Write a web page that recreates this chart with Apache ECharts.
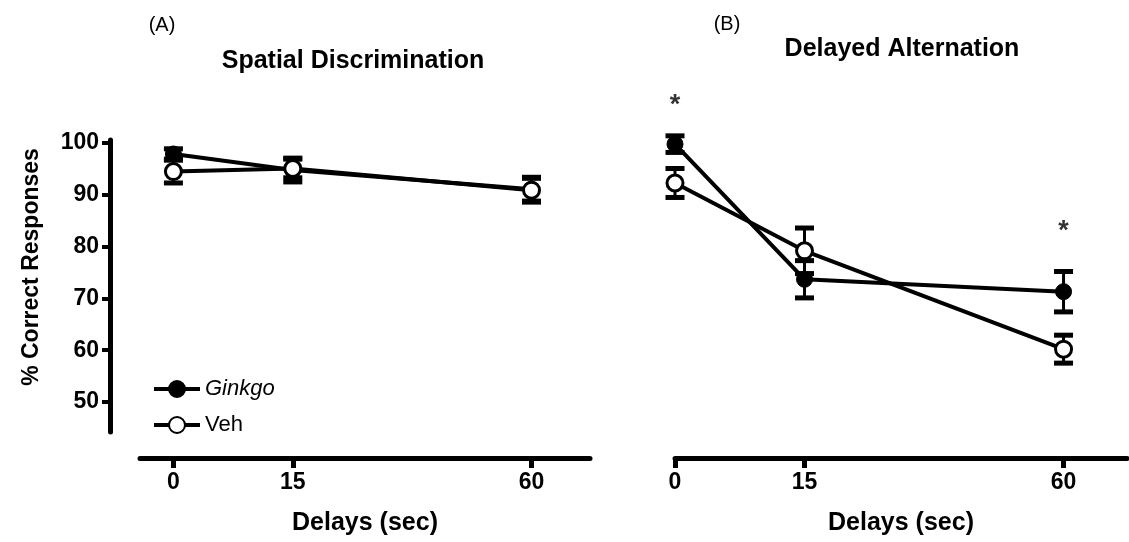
<!DOCTYPE html>
<html>
<head>
<meta charset="utf-8">
<script src="https://cdn.jsdelivr.net/npm/echarts@6/dist/echarts.min.js"></script>
<style>
  html, body { margin: 0; padding: 0; background: #fff; }
  #chart { width: 1129px; height: 542px; }
</style>
</head>
<body>
<div id="chart"></div>
<script>
// delays are drawn at ordinal positions 0, 1, 3 (spacing as in the figure)
let delayPos = [0, 1, 3];
let delayLabels = ['0', '15', '60'];
let yTicks = [50, 60, 70, 80, 90, 100];

// (A) spatial discrimination, mean and SEM
let ginkgoSpatial = [97.9, 94.8, 91.1];
let ginkgoSpatialErr = [1.0, 2.3, 2.3];
let vehSpatial = [94.5, 95.1, 90.9];
let vehSpatialErr = [2.2, 1.8, 2.3];

// (B) delayed alternation, mean and SEM
let ginkgoAlt = [99.8, 73.7, 71.3];
let ginkgoAltErr = [1.6, 3.6, 3.9];
let vehAlt = [92.3, 79.2, 60.2];
let vehAltErr = [2.8, 4.4, 2.7];

// significance marks in panel B (position index, height)
let sigPos = [0, 3];
let sigY = [107.3, 83.0];

const FONT = '"Liberation Sans", Arial, Helvetica, sans-serif';
const BLACK = '#000';

function points(vals) {
  return vals.map((v, i) => [delayPos[i], v]);
}

function errPoints(vals, errs) {
  return vals.map((v, i) => [delayPos[i], v, errs[i]]);
}

function renderErr(params, api) {
  let x = api.value(0);
  let m = api.value(1);
  let e = api.value(2);
  let top = api.coord([x, m + e]);
  let bot = api.coord([x, m - e]);
  let capW = 19, capH = 5;
  return {
    type: 'group',
    children: [
      {
        type: 'line',
        shape: {x1: top[0], y1: top[1], x2: bot[0], y2: bot[1]},
        style: {stroke: BLACK, lineWidth: 3}
      },
      {
        type: 'rect',
        shape: {x: top[0] - capW / 2, y: top[1] - capH / 2, width: capW, height: capH},
        style: {fill: BLACK}
      },
      {
        type: 'rect',
        shape: {x: bot[0] - capW / 2, y: bot[1] - capH / 2, width: capW, height: capH},
        style: {fill: BLACK}
      }
    ]
  };
}

function errSeries(name, idx, vals, errs) {
  return {
    name: name,
    type: 'custom',
    xAxisIndex: idx,
    yAxisIndex: idx,
    renderItem: renderErr,
    data: errPoints(vals, errs),
    z: 1,
    silent: true
  };
}

function lineSeries(name, idx, vals, filled) {
  return {
    name: name,
    type: 'line',
    xAxisIndex: idx,
    yAxisIndex: idx,
    data: points(vals),
    symbol: 'circle',
    symbolSize: 16,
    showAllSymbol: true,
    lineStyle: {color: BLACK, width: 4},
    itemStyle: filled
      ? {color: BLACK, borderColor: BLACK, borderWidth: 1}
      : {color: '#fff', borderColor: BLACK, borderWidth: 3},
    emphasis: {disabled: true},
    z: filled ? 2 : 3
  };
}

function xAxisFor(idx, min, max) {
  return {
    gridIndex: idx,
    type: 'value',
    min: min,
    max: max,
    position: 'bottom',
    offset: 26,
    name: 'Delays (sec)',
    nameLocation: 'middle',
    nameGap: 53,
    nameTextStyle: {color: BLACK, fontFamily: FONT, fontSize: 25, fontWeight: 'bold'},
    axisLine: {onZero: false, lineStyle: {color: BLACK, width: 5}},
    axisTick: {customValues: delayPos, length: 10, lineStyle: {color: BLACK, width: 5}},
    axisLabel: {
      customValues: delayPos,
      formatter: (v) => delayLabels[delayPos.indexOf(v)],
      color: BLACK,
      fontFamily: FONT,
      fontSize: 23,
      fontWeight: 'bold',
      margin: 13
    },
    splitLine: {show: false}
  };
}

let chart = echarts.init(document.getElementById('chart'), null, {renderer: 'canvas'});

let option = {
  backgroundColor: '#fff',
  animation: false,
  grid: [
    {left: 140, top: 140, width: 450, height: 292},
    {left: 675, top: 140, width: 452, height: 292}
  ],
  xAxis: [
    xAxisFor(0, -0.28, 3.49),
    xAxisFor(1, 0, 3.49)
  ],
  yAxis: [
    {
      gridIndex: 0,
      type: 'value',
      min: 44.2,
      max: 100.6,
      offset: 30,
      axisLine: {show: true, onZero: false, lineStyle: {color: BLACK, width: 5}},
      axisTick: {show: true, customValues: yTicks, length: 8, lineStyle: {color: BLACK, width: 4}},
      axisLabel: {
        customValues: yTicks,
        color: BLACK,
        fontFamily: FONT,
        fontSize: 23,
        fontWeight: 'bold',
        margin: 11
      },
      splitLine: {show: false}
    },
    {gridIndex: 1, type: 'value', min: 44.2, max: 100.6, show: false}
  ],
  legend: {
    data: ['Ginkgo', 'Veh'],
    orient: 'vertical',
    left: 147,
    top: 373,
    itemWidth: 46,
    itemHeight: 20,
    itemGap: 14,
    lineStyle: {width: 4},
    textStyle: {
      color: BLACK,
      fontFamily: FONT,
      fontSize: 22,
      rich: {i: {fontStyle: 'italic', fontFamily: FONT, fontSize: 22, color: BLACK}}
    },
    formatter: (name) => name === 'Ginkgo' ? '{i|Ginkgo}' : name,
    selectedMode: false
  },
  graphic: [
    {type: 'text', x: 162, y: 25, style: {text: '(A)', font: '20px ' + FONT, fill: BLACK, align: 'center', verticalAlign: 'middle'}},
    {type: 'text', x: 727, y: 24, style: {text: '(B)', font: '20px ' + FONT, fill: BLACK, align: 'center', verticalAlign: 'middle'}},
    {type: 'text', x: 353, y: 61, style: {text: 'Spatial Discrimination', font: 'bold 25px ' + FONT, fill: BLACK, align: 'center', verticalAlign: 'middle'}},
    {type: 'text', x: 902, y: 49, style: {text: 'Delayed Alternation', font: 'bold 25px ' + FONT, fill: BLACK, align: 'center', verticalAlign: 'middle'}},
    {type: 'text', x: 32, y: 267, rotation: Math.PI / 2, style: {text: '% Correct Responses', font: 'bold 23px ' + FONT, fill: BLACK, align: 'center', verticalAlign: 'middle'}}
  ],
  series: [
    errSeries('Ginkgo SEM A', 0, ginkgoSpatial, ginkgoSpatialErr),
    errSeries('Veh SEM A', 0, vehSpatial, vehSpatialErr),
    errSeries('Ginkgo SEM B', 1, ginkgoAlt, ginkgoAltErr),
    errSeries('Veh SEM B', 1, vehAlt, vehAltErr),
    lineSeries('Ginkgo', 0, ginkgoSpatial, true),
    lineSeries('Veh', 0, vehSpatial, false),
    lineSeries('Ginkgo', 1, ginkgoAlt, true),
    lineSeries('Veh', 1, vehAlt, false),
    {
      name: 'sig',
      type: 'scatter',
      xAxisIndex: 1,
      yAxisIndex: 1,
      clip: false,
      symbolSize: 0,
      data: sigPos.map((p, i) => [p, sigY[i]]),
      label: {
        show: true,
        position: 'inside',
        formatter: '*',
        color: BLACK,
        fontFamily: FONT,
        fontSize: 27,
        fontWeight: 'bold'
      },
      silent: true
    }
  ]
};

chart.setOption(option);
</script>
</body>
</html>
